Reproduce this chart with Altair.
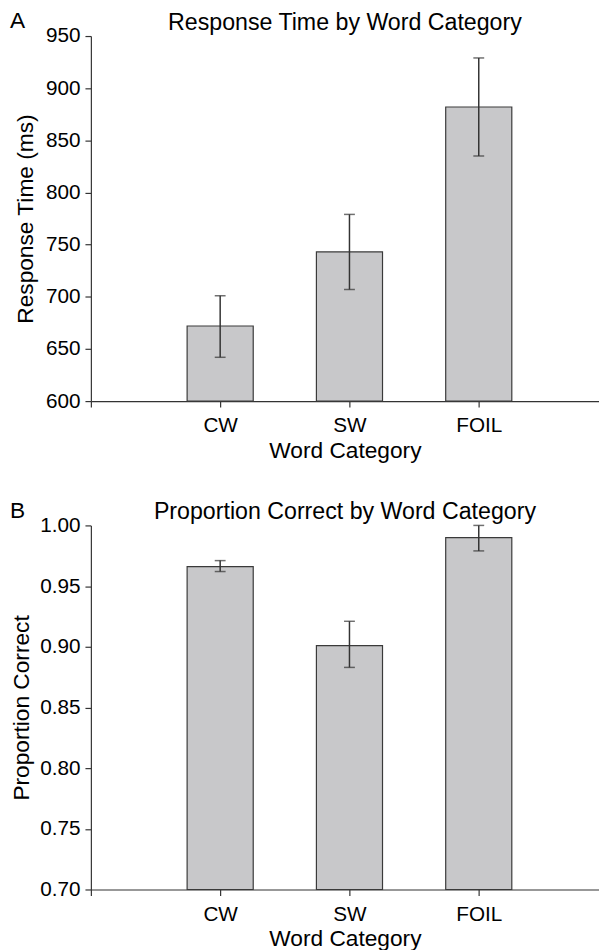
import altair as alt
import pandas as pd

categories = ["CW", "SW", "FOIL"]
positions = [1, 2, 3]

rt_mean = [672, 743, 882]
rt_low = [642, 707, 835]
rt_high = [701, 779, 929]

pc_mean = [0.966, 0.901, 0.990]
pc_low = [0.962, 0.883, 0.979]
pc_high = [0.971, 0.921, 1.000]

panel_labels = ["A", "B"]
titles = ["Response Time by Word Category", "Proportion Correct by Word Category"]
y_titles = ["Response Time (ms)", "Proportion Correct"]
y_domains = [[600, 950], [0.70, 1.00]]
y_ticks = [[600, 650, 700, 750, 800, 850, 900, 950],
           [0.70, 0.75, 0.80, 0.85, 0.90, 0.95, 1.00]]
y_formats = ["d", ".2f"]
y_title_pads = [8, 6]
x_title = "Word Category"

FONT = "Liberation Sans"
DARK = "#333333"

label_expr = " : ".join(
    f"datum.value == {p} ? '{c}'" for p, c in zip(positions, categories)
) + " : ''"


def panel(label, title, ytitle, mean, low, high, domain, ticks, fmt, height, ypad):
    df = pd.DataFrame({"pos": positions, "cat": categories,
                       "mean": mean, "low": low, "high": high})
    xscale = alt.Scale(domain=[0, 3.93], nice=False, zero=False, padding=0)
    x = alt.X("pos:Q", scale=xscale, title=x_title,
              axis=alt.Axis(values=[0, 1, 2, 3], labelExpr=label_expr,
                            grid=False, tickSize=6,
                            labelPadding=8, titlePadding=4))
    yscale = alt.Scale(domain=domain, nice=False, zero=False)
    y = alt.Y("mean:Q", scale=yscale, title=ytitle,
              axis=alt.Axis(values=ticks, format=fmt,
                            grid=False, tickSize=6, labelPadding=5,
                            titlePadding=ypad))
    base = alt.Chart(df)
    bars = base.mark_bar(size=67, color="#c8c8ca", stroke="#3a3a3a",
                         strokeWidth=1.2).encode(
        x=x, y=y, y2=alt.datum(domain[0]))
    err = base.mark_errorbar(
        ticks=alt.TickConfig(size=11, thickness=1.5, color=DARK),
        rule=alt.MarkConfig(strokeWidth=1.5, color=DARK),
    ).encode(
        x=alt.X("pos:Q", scale=xscale, title=x_title),
        y=alt.Y("low:Q", scale=yscale, title=ytitle),
        y2="high:Q",
    )
    lab = alt.Chart(pd.DataFrame({"label": [label]})).mark_text(
        align="left", baseline="middle", fontSize=23, font=FONT,
        color="black", x=-82, y=-15).encode(text="label:N")
    return alt.layer(bars, err, lab).properties(
        width=515, height=height,
        title=alt.TitleParams(text=title, fontSize=23.5, fontWeight="normal",
                              font=FONT, color="black", anchor="middle",
                              frame="group", offset=-24),
    )


a = panel(panel_labels[0], titles[0], y_titles[0], rt_mean, rt_low, rt_high,
          y_domains[0], y_ticks[0], y_formats[0], 370, y_title_pads[0])
b = panel(panel_labels[1], titles[1], y_titles[1], pc_mean, pc_low, pc_high,
          y_domains[1], y_ticks[1], y_formats[1], 369, y_title_pads[1])

chart = alt.vconcat(a, b, spacing=38).properties(
    padding={"top": -4, "left": 2, "right": 0, "bottom": 0}
).configure_view(
    stroke=None
).configure_axis(
    labelFont=FONT, titleFont=FONT, labelFontSize=21, titleFontSize=23,
    titleFontWeight="normal", labelColor="black", titleColor="black",
    domainColor=DARK, tickColor=DARK, domainWidth=1.2, tickWidth=1.2,
)

chart.save("out.html", embed_options={"renderer": "svg", "actions": False})
